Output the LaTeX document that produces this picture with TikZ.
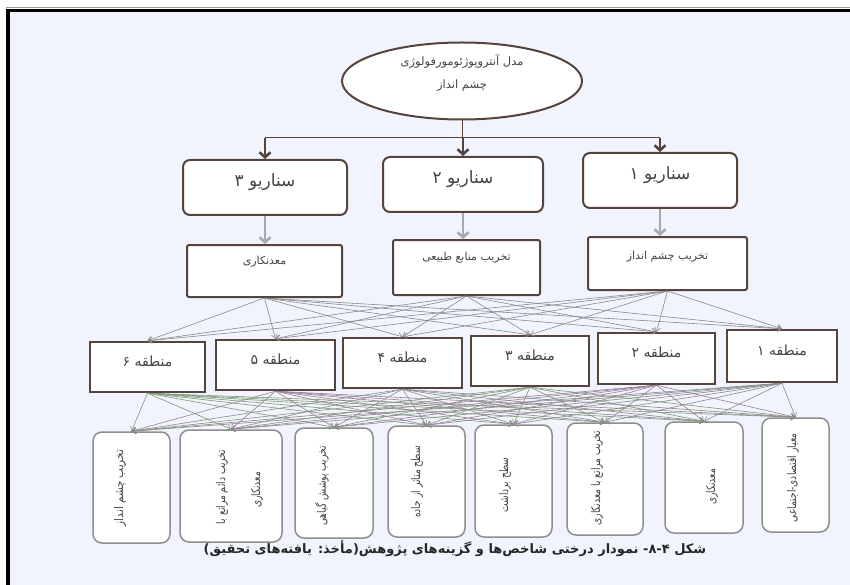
\documentclass[tikz,border=0pt]{standalone}
\usepackage{fontspec}
\usepackage{graphicx}
\usetikzlibrary{arrows.meta,shapes.geometric}
\TeXXeTstate=1
\newfontfamily\arabicfont[Script=Arabic]{DejaVu Sans}
\newcommand{\pers}[1]{{\arabicfont\beginR #1\endR}}
\newcommand{\rtext}[2][0.76]{\scalebox{#1}[1]{\pers{#2}}}
\definecolor{bgblue}{HTML}{F1F4FD}
\definecolor{boxbrown}{HTML}{55443E}
\definecolor{txtgray}{HTML}{444444}
\definecolor{lightarrow}{HTML}{A9A9AB}
\definecolor{wgray}{HTML}{8A8A8C}
\definecolor{wgreen}{HTML}{7E9873}
\definecolor{wpurple}{HTML}{9A7E99}
\definecolor{bboxgray}{HTML}{8E8E90}
\begin{document}
\begin{tikzpicture}[x=1pt,y=-1pt,
  sbox/.style={draw=boxbrown, line width=2pt, rounded corners=7pt, fill=white, inner sep=0pt},
  mbox/.style={draw=boxbrown, line width=2pt, rounded corners=2pt, fill=white, inner sep=0pt},
  rbox/.style={draw=boxbrown, line width=2.4pt, fill=white, inner sep=0pt},
  bbox/.style={draw=bboxgray, line width=1.5pt, rounded corners=9pt, fill=white, inner sep=0pt},
  lbl/.style={inner sep=0pt, text=txtgray, font=\fontsize{17}{19}\selectfont},
  midl/.style={inner sep=0pt, text=txtgray, font=\fontsize{11}{13}\selectfont},
  regl/.style={inner sep=0pt, text=txtgray, font=\fontsize{14}{16}\selectfont},
  small/.style={inner sep=0pt, text=txtgray, font=\fontsize{11.5}{13}\selectfont},
  rot/.style={inner sep=0pt, text=txtgray, font=\fontsize{12}{14}\selectfont, rotate=90},
  conn/.style={draw=boxbrown, line width=1pt},
  toparrow/.style={draw=boxbrown, line width=2.6pt, -{Straight Barb[length=5pt,width=11pt]}},
  grayarrow/.style={draw=lightarrow, line width=2.6pt, -{Straight Barb[length=5pt,width=11pt]}},
  web/.style={line width=0.6pt, -{Straight Barb[length=4pt,width=6pt]}}
]
\useasboundingbox (0,0) rectangle (850,585);
\fill[white] (0,0) rectangle (850,585);
\fill[bgblue] (8,10) rectangle (850,585);
\draw[black!40, line width=1.2pt] (6,7.6) -- (850,7.6);
\draw[black, line width=3.5pt] (6,10.5) -- (850,10.5);
\draw[black, line width=4pt] (8,9) -- (8,585);

% root
\node[ellipse, draw=boxbrown, line width=2pt, fill=white, minimum width=240pt, minimum height=77pt, inner sep=0pt] (root) at (462,81) {};
\node[small] (roott1) at (462,62) {\pers{مدل آنتروپوژئومورفولوژی}};
\node[small] (roott2) at (462,86) {\pers{چشم انداز}};

% scenarios
\node[sbox, minimum width=164pt, minimum height=55pt] (s3) at (265,187.5) {};
\node[sbox, minimum width=160pt, minimum height=55pt] (s2) at (463,184.5) {};
\node[sbox, minimum width=154pt, minimum height=55pt] (s1) at (660,180.5) {};
\node[lbl] (s3t) at (265,182) {\pers{سناریو ۳}};
\node[lbl] (s2t) at (463,179) {\pers{سناریو ۲}};
\node[lbl] (s1t) at (660,175) {\pers{سناریو ۱}};

% mid boxes
\node[mbox, minimum width=155pt, minimum height=52pt] (m3) at (264.5,271) {};
\node[mbox, minimum width=147pt, minimum height=55pt] (m2) at (466.5,267.5) {};
\node[mbox, minimum width=159pt, minimum height=53pt] (m1) at (667.5,263.5) {};
\node[midl] (m3t) at (264.5,262) {\pers{معدنکاری}};
\node[midl] (m2t) at (466.5,258) {\pers{تخریب منابع طبیعی}};
\node[midl] (m1t) at (667.5,257) {\pers{تخریب چشم انداز}};

% top connectors
\coordinate (hl) at (462,138);
\draw[conn] (root.south) -- (hl);
\draw[conn] (s3.north |- hl) -- (s1.north |- hl);
\draw[toparrow] (s3.north |- hl) -- (s3.north);
\draw[toparrow] (s2.north |- hl) -- (s2.north);
\draw[toparrow] (s1.north |- hl) -- (s1.north);
\draw[grayarrow] (s3.south) -- (s3.south |- m3.north);
\draw[grayarrow] (s2.south) -- (s2.south |- m2.north);
\draw[grayarrow] (s1.south) -- (s1.south |- m1.north);

% regions
\node[rbox, minimum width=115pt, minimum height=50pt] (r6) at (147.5,367) {};
\node[rbox, minimum width=119pt, minimum height=50pt] (r5) at (275.5,365) {};
\node[rbox, minimum width=119pt, minimum height=50pt] (r4) at (402.5,363) {};
\node[rbox, minimum width=118pt, minimum height=50pt] (r3) at (530,361) {};
\node[rbox, minimum width=117pt, minimum height=51pt] (r2) at (656.5,358.5) {};
\node[rbox, minimum width=110pt, minimum height=52pt] (r1) at (782,356) {};
\node[regl] (r6t) at (147.5,361) {\pers{منطقه ۶}};
\node[regl] (r5t) at (275.5,359) {\pers{منطقه ۵}};
\node[regl] (r4t) at (402.5,357) {\pers{منطقه ۴}};
\node[regl] (r3t) at (530,355) {\pers{منطقه ۳}};
\node[regl] (r2t) at (656.5,352) {\pers{منطقه ۲}};
\node[regl] (r1t) at (782,350) {\pers{منطقه ۱}};

% bottom boxes
\node[bbox, minimum width=77pt, minimum height=111pt] (ba) at (131.5,487.5) {};
\node[bbox, minimum width=102pt, minimum height=112pt] (bb) at (231,486) {};
\node[bbox, minimum width=78pt, minimum height=110pt] (bc) at (334,483) {};
\node[bbox, minimum width=77pt, minimum height=111pt] (bd) at (426.5,481.5) {};
\node[bbox, minimum width=77pt, minimum height=112pt] (be) at (513.5,481) {};
\node[bbox, minimum width=76pt, minimum height=112pt] (bf) at (605,479) {};
\node[bbox, minimum width=78pt, minimum height=111pt] (bg) at (704,477.5) {};
\node[bbox, minimum width=67pt, minimum height=114pt] (bh) at (795.5,475) {};
\node[rot] (bat) at (120,488) {\rtext[0.86]{تخریب چشم انداز}};
\node[rot] (bbt1) at (222,487) {\rtext{تخریب دائم مراتع با}};
\node[rot] (bbt2) at (257,490) {\rtext{معدنکاری}};
\node[rot] (bct) at (322,486) {\rtext{تخریب پوشش گیاهی}};
\node[rot] (bdt) at (417,482) {\rtext{سطح متاثر از جاده}};
\node[rot] (bet) at (505,485) {\rtext{سطح برداشت}};
\node[rot] (bft) at (597,478) {\rtext{تخریب مراتع با معدنکاری}};
\node[rot] (bgt) at (712,487) {\rtext{معدنکاری}};
\node[rot] (bht) at (793,478) {\rtext{معیار اقتصادی-اجتماعی}};

% web mid -> regions
\foreach \m in {m1,m2,m3}
  \foreach \r in {r1,r2,r3,r4,r5,r6}
    \draw[web, draw=wgray] (\m.south) -- (\r.north);

% web regions -> bottom
\foreach \r/\c in {r1/wgray,r2/wpurple,r3/wgreen,r4/wgray,r5/wpurple,r6/wgreen}
  \foreach \b in {ba,bb,bc,bd,be,bf,bg,bh}
    \draw[web, draw=\c] (\r.south) -- (\b.north);

% caption
\node[inner sep=0pt, text=black!85, font=\fontsize{13}{15}\selectfont\bfseries] (cap) at (455,549)
  {\pers{شکل ۴\kern0pt-\kern0pt۸\kern0pt- نمودار درختی شاخص‌ها و گزینه‌های پژوهش(مأخذ: یافته‌های تحقیق)}};
\end{tikzpicture}
\end{document}
